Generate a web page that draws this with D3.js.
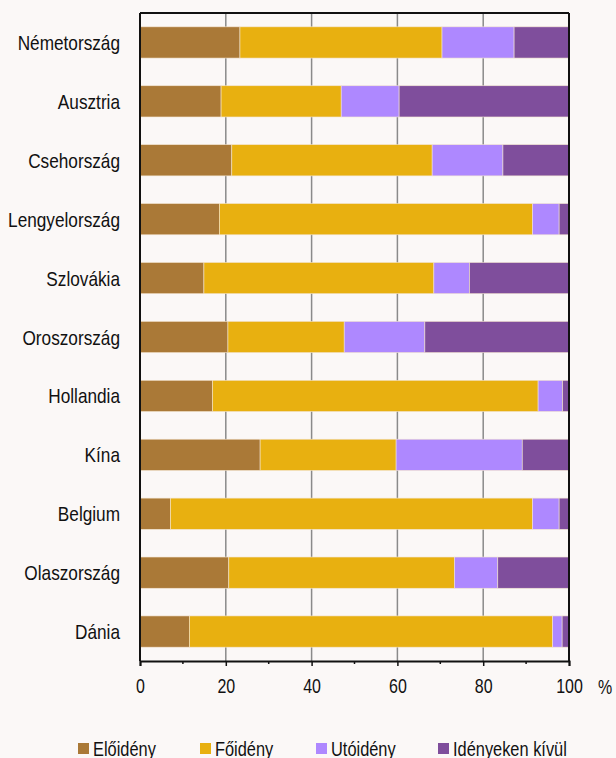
<!DOCTYPE html>
<html><head><meta charset="utf-8">
<script src="https://cdn.jsdelivr.net/npm/d3@7"></script>
<style>
html,body{margin:0;padding:0;background:#fbf8f7;}
svg{display:block;}
text{font-family:"Liberation Sans",Arial,sans-serif;fill:#111;}
</style></head>
<body>
<script>
const categories = ["Németország","Ausztria","Csehország","Lengyelország","Szlovákia","Oroszország","Hollandia","Kína","Belgium","Olaszország","Dánia"];
const seriesNames = ["Előidény","Főidény","Utóidény","Idényeken kívül"];
const elo    = [23.3, 18.9, 21.4, 18.5, 14.9, 20.5, 16.9, 28.0,  7.1, 20.7, 11.5];
const fo     = [47.1, 28.0, 46.7, 73.0, 53.6, 27.1, 75.9, 31.7, 84.4, 52.6, 84.7];
const uto    = [16.8, 13.5, 16.5,  6.2,  8.3, 18.8,  5.7, 29.4,  6.2, 10.1,  2.2];
const kivul  = [12.8, 39.6, 15.4,  2.3, 23.2, 33.6,  1.5, 10.9,  2.3, 16.6,  1.6];
const xTicks = [0,20,40,60,80,100];
const colors = ["#aa7937","#e8b010","#ae88ff","#7f4e9c"];

const W = 616, H = 758;
const L = 140, R = 569, T = 13, B = 661;
const SX = 0.82;
const svg = d3.select("body").append("svg").attr("width",W).attr("height",H);
svg.append("rect").attr("width",W).attr("height",H).attr("fill","#fbf8f7");

const x = d3.scaleLinear().domain([0,100]).range([L,R]);
const y = d3.scaleBand().domain(categories).range([T,B]).paddingInner(0.47).paddingOuter(0.235);

// grid
svg.append("g").selectAll("line").data([20,40,60,80]).join("line")
  .attr("x1",d=>x(d)).attr("x2",d=>x(d)).attr("y1",T).attr("y2",B)
  .attr("stroke","#8a8a8a").attr("stroke-width",1.5);

// bars
const rows = categories.map((c,i)=>({cat:c, v:[elo[i],fo[i],uto[i],kivul[i]]}));
const segs = [];
rows.forEach(r=>{ let acc=0; r.v.forEach((v,k)=>{ segs.push({cat:r.cat,x0:acc,x1:acc+v,k}); acc+=v; }); });
svg.append("g").selectAll("rect").data(segs).join("rect")
  .attr("x",d=>x(d.x0)).attr("width",d=>Math.max(0,x(Math.min(100,d.x1))-x(d.x0)))
  .attr("y",d=>y(d.cat)).attr("height",y.bandwidth())
  .attr("fill",d=>colors[d.k]).attr("stroke","#f3e4d0").attr("stroke-width",0.6);

// frame
svg.append("line").attr("x1",L).attr("x2",R).attr("y1",T).attr("y2",T).attr("stroke","#111").attr("stroke-width",2);
svg.append("line").attr("x1",L).attr("x2",L).attr("y1",T).attr("y2",B).attr("stroke","#111").attr("stroke-width",2);
svg.append("line").attr("x1",R).attr("x2",R).attr("y1",T).attr("y2",B).attr("stroke","#111").attr("stroke-width",2);

// x axis
const ax = svg.append("g").attr("transform",`translate(0,${B})`)
  .call(d3.axisBottom(x).tickValues(xTicks).tickSize(5).tickPadding(13).tickFormat(d3.format("d")));
ax.select(".domain").attr("stroke","#111").attr("stroke-width",2);
ax.selectAll(".tick line").attr("stroke","#111").attr("stroke-width",1.5);
ax.selectAll(".tick text").attr("font-size",19.5).attr("fill","#111")
  .attr("transform",`scale(${SX},1)`)
  .style("font-family",'"Liberation Sans",Arial,sans-serif');
svg.append("g").selectAll("line").data([10,30,50,70,90]).join("line")
  .attr("x1",d=>x(d)).attr("x2",d=>x(d)).attr("y1",B).attr("y2",B+3)
  .attr("stroke","#111").attr("stroke-width",1.5);
svg.append("text").attr("transform",`translate(605,694) scale(${SX},1)`)
  .attr("text-anchor","middle").attr("font-size",19.5).text("%");

// y labels
svg.append("g").selectAll("text").data(categories).join("text")
  .attr("transform",d=>`translate(${L-20},${y(d)+y.bandwidth()/2}) scale(${SX},1)`)
  .attr("dy","0.36em").attr("text-anchor","end").attr("font-size",21).text(d=>d);

// legend
const legX = [78, 200, 316, 438];
const lg = svg.append("g").selectAll("g").data(seriesNames).join("g")
  .attr("transform",(d,i)=>`translate(${legX[i]},743)`);
lg.append("rect").attr("width",11).attr("height",11).attr("fill",(d,i)=>colors[i]);
lg.append("text").attr("transform",`translate(15,5.5) scale(${SX},1)`)
  .attr("dy","0.36em").attr("font-size",20).text(d=>d);
</script>
</body></html>
